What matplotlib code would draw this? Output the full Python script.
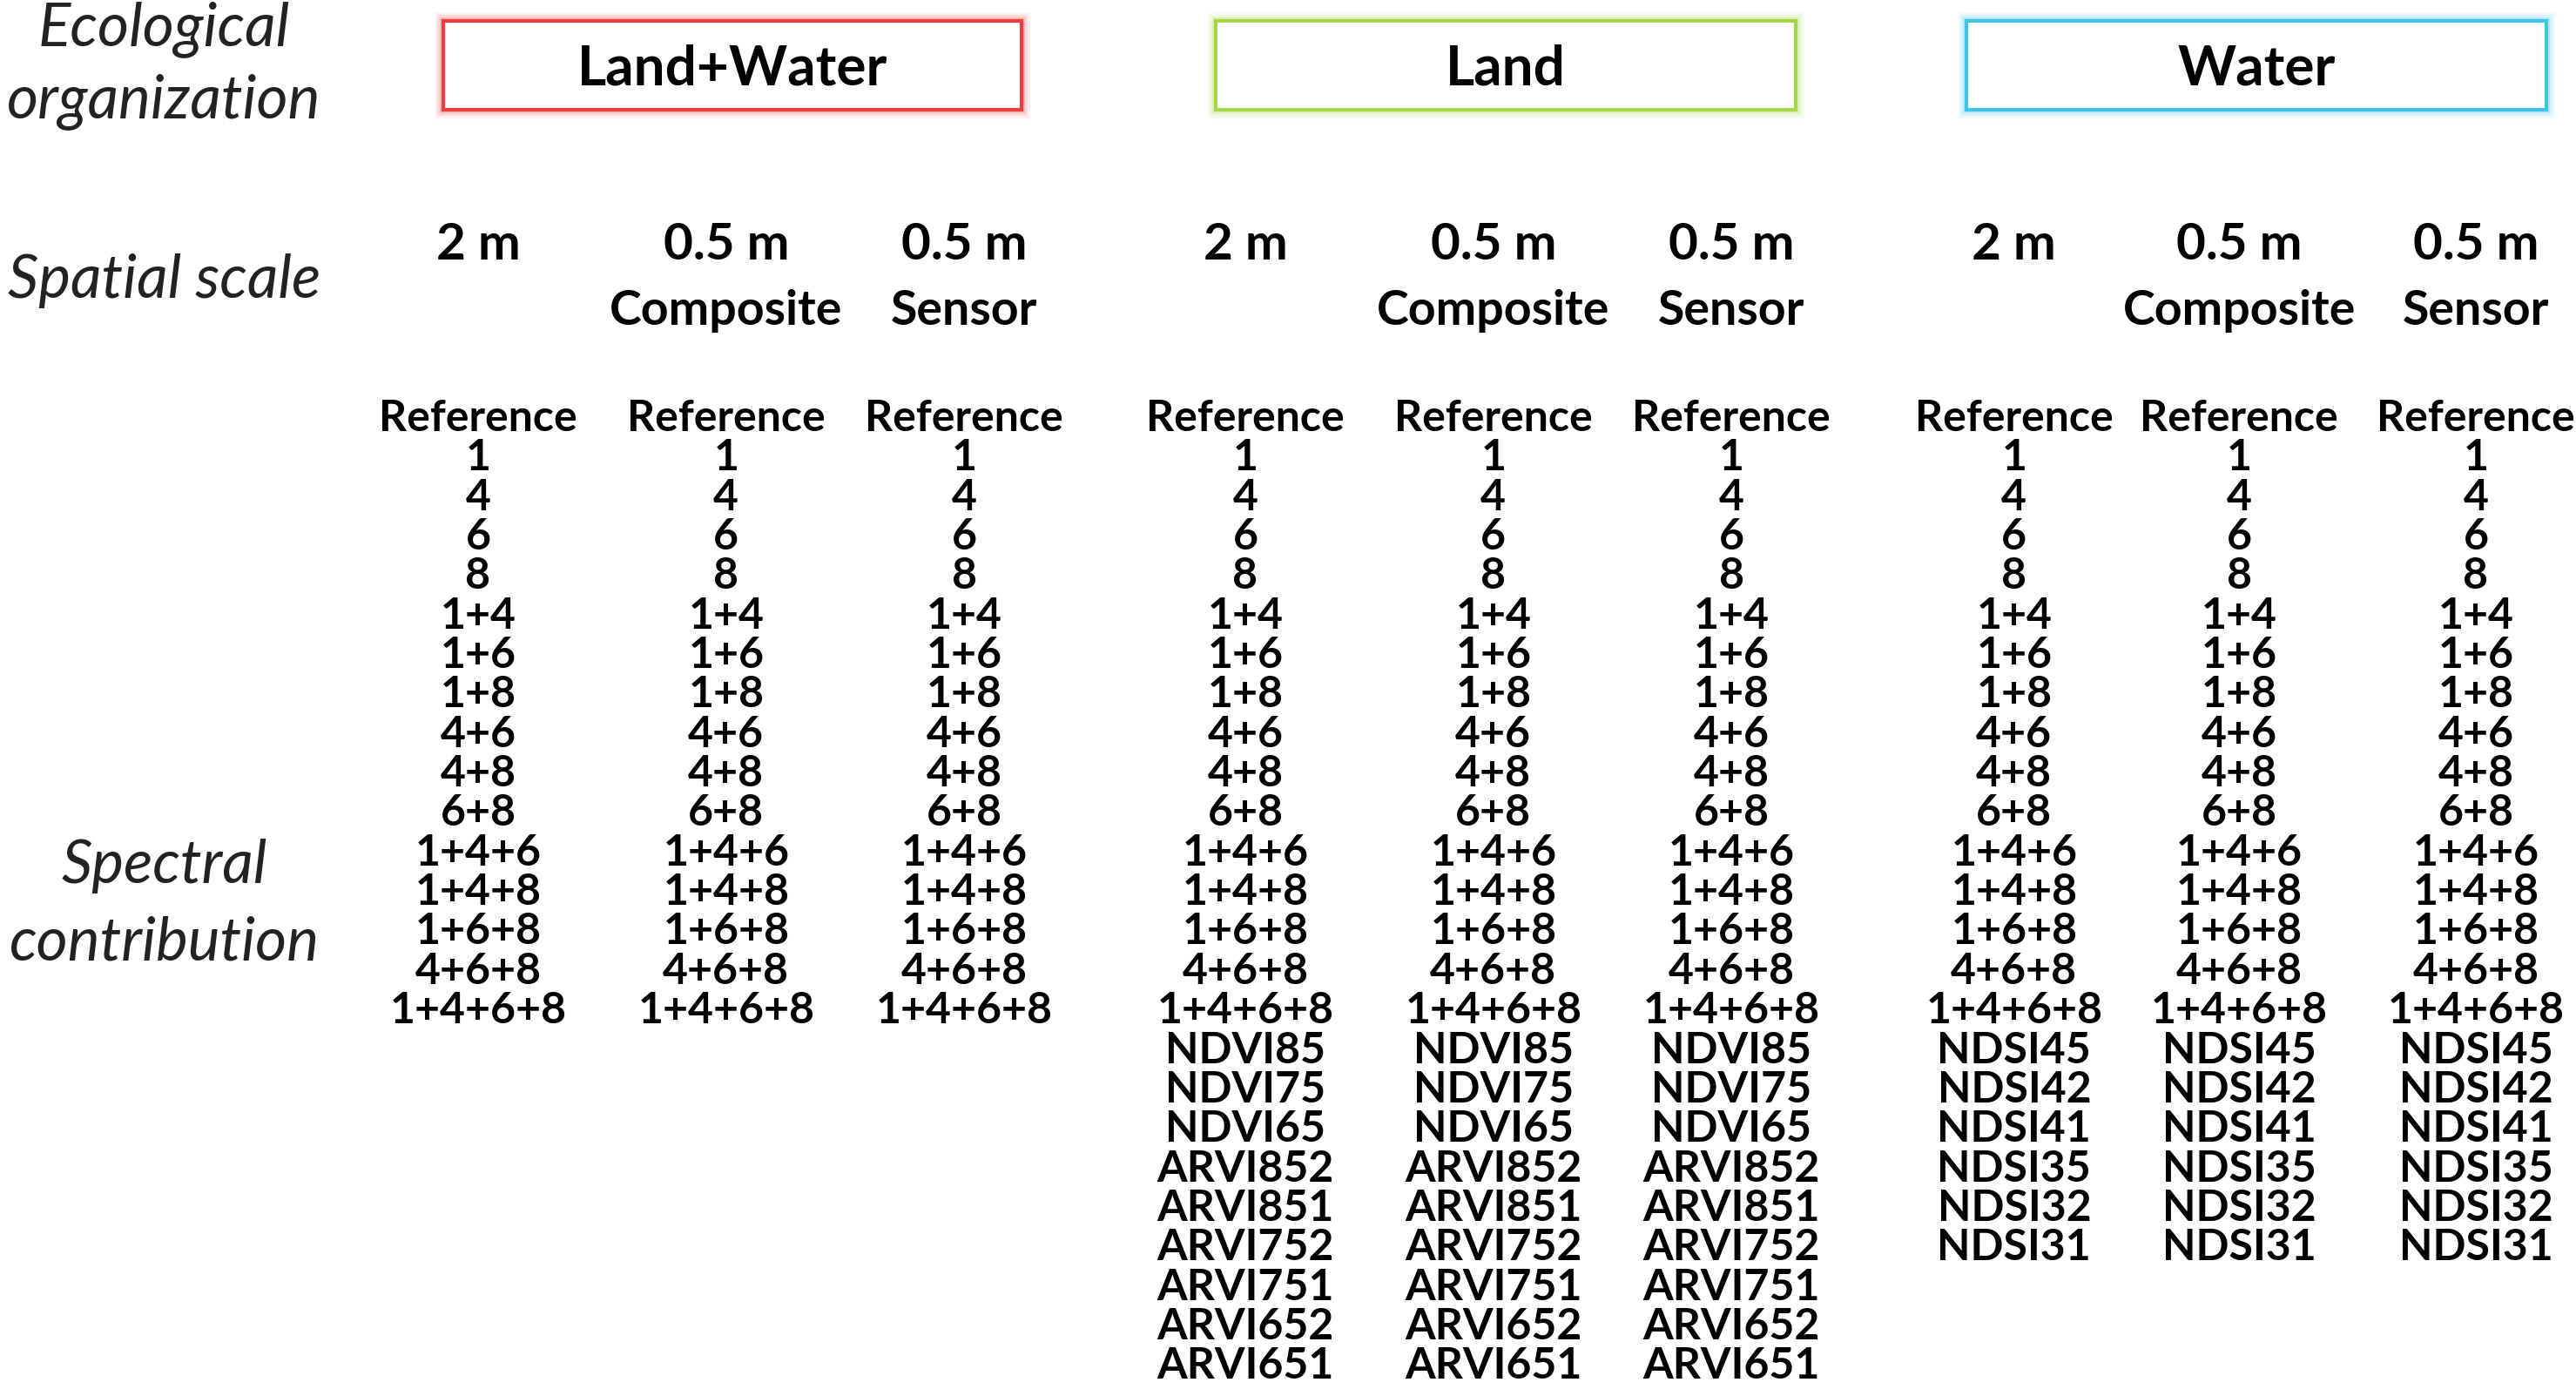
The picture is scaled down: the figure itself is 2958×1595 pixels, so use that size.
import matplotlib
matplotlib.use("Agg")
import matplotlib.pyplot as plt
from matplotlib.patches import Rectangle

# data
groups = ["Land+Water", "Land", "Water"]
group_colors = ["#e8403f", "#a6d64a", "#3fc3e6"]
scales = ["2 m", "0.5 m", "0.5 m"]
scale_sub = ["", "Composite", "Sensor"]
base_rows = ["Reference", "1", "4", "6", "8", "1+4", "1+6", "1+8", "4+6", "4+8", "6+8",
             "1+4+6", "1+4+8", "1+6+8", "4+6+8", "1+4+6+8"]
land_extra = ["NDVI85", "NDVI75", "NDVI65", "ARVI852", "ARVI851", "ARVI752",
              "ARVI751", "ARVI652", "ARVI651"]
water_extra = ["NDSI45", "NDSI42", "NDSI41", "NDSI35", "NDSI32", "NDSI31"]
group_rows = [base_rows, base_rows + land_extra, base_rows + water_extra]

# layout (coords in a 1568 x 850 frame)
col_x = [[291, 442, 587], [758, 909, 1054], [1226, 1363, 1507]]
box_x = [(270, 622), (740, 1093), (1197, 1550)]
row_y0, row_dy = 256, 24.17
font = "Lato"

fig = plt.figure(figsize=(29.58, 15.95), dpi=100)
ax = fig.add_axes([0, 0, 1, 1])
ax.set_xlim(0, 1568)
ax.set_ylim(850, 0)
ax.axis("off")

# left labels
lk = dict(ha="center", va="center", fontsize=50, style="italic", family=font, color="#222222")
ax.text(100, 18, "Ecological", **lk)
ax.text(100, 62, "organization", **lk)
ax.text(100, 172, "Spatial scale", **lk)
ax.text(100, 530, "Spectral", **lk)
ax.text(100, 577, "contribution", **lk)

for g, name in enumerate(groups):
    x0, x1 = box_x[g]
    # glow
    for lw, a in [(14, 0.08), (10, 0.12), (6, 0.2)]:
        ax.add_patch(Rectangle((x0, 13), x1 - x0, 54, fill=False, edgecolor=group_colors[g],
                               lw=lw, alpha=a))
    ax.add_patch(Rectangle((x0, 13), x1 - x0, 54, facecolor="white", edgecolor=group_colors[g], lw=3))
    ax.text((x0 + x1) / 2, 42, name, ha="center", va="center", fontsize=46, weight="bold", family=font)
    for c in range(3):
        x = col_x[g][c]
        ax.text(x, 150, scales[c], ha="center", va="center", fontsize=42, weight="bold", family=font)
        if scale_sub[c]:
            ax.text(x, 190, scale_sub[c], ha="center", va="center", fontsize=40, weight="bold", family=font)
        for i, r in enumerate(group_rows[g]):
            ax.text(x, row_y0 + i * row_dy, r, ha="center", va="center", fontsize=36,
                    weight="bold", family=font)

fig.savefig("out.png", dpi=100, facecolor="white")
